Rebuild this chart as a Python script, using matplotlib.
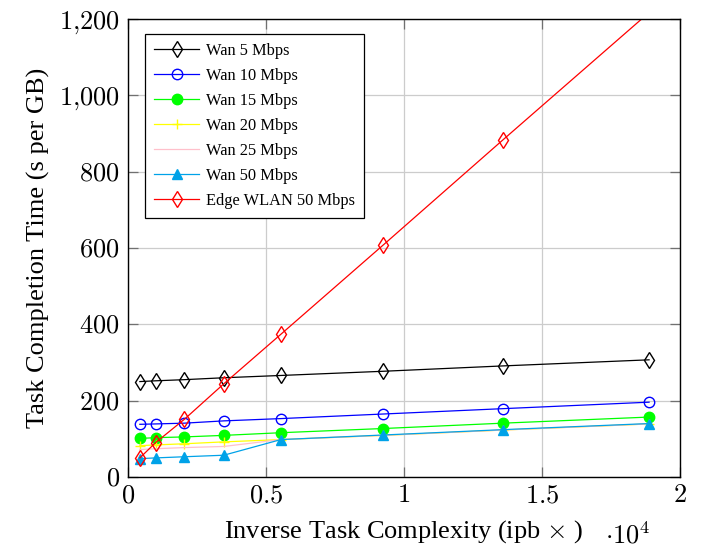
import matplotlib
matplotlib.use("Agg")
import matplotlib.pyplot as plt
from matplotlib.ticker import FuncFormatter

plt.rcParams["font.family"] = ["Liberation Serif", "DejaVu Serif"]
plt.rcParams["mathtext.fontset"] = "cm"

# inverse task complexity, in units of 10^4
x_vals = [0.043, 0.1, 0.204, 0.347, 0.554, 0.925, 1.358, 1.888]

wan_5 = [250, 252, 255, 260, 266, 277, 291, 307]
wan_10 = [138, 139, 141, 147, 153, 165, 179, 196]
wan_15 = [101, 103, 105, 109, 116, 127, 141, 157]
wan_20 = [82, 84, 87, 92, 98, 109, 123, 139]
wan_25 = [72, 74, 77, 80, 98, 109, 123, 139]
wan_50 = [48, 50, 53, 57, 98, 110, 124, 140]
edge_wlan_50 = [50, 90, 151, 244, 374, 608, 883, 1217]

series = [
    ("Wan 5 Mbps", wan_5, "black", "d", "none", 8),
    ("Wan 10 Mbps", wan_10, "blue", "o", "none", 7.5),
    ("Wan 15 Mbps", wan_15, "#00ff00", "o", "#00ff00", 7.5),
    ("Wan 20 Mbps", wan_20, "#ffff00", "+", "#ffff00", 7.5),
    ("Wan 25 Mbps", wan_25, "#ffc0cb", "", "#ffc0cb", 7),
    ("Wan 50 Mbps", wan_50, "#00a2e8", "^", "#00a2e8", 7),
    ("Edge WLAN 50 Mbps", edge_wlan_50, "red", "d", "none", 8),
]

fig = plt.figure(figsize=(7.04, 5.48), dpi=100)
ax = fig.add_axes([0.1818, 0.1296, 0.7841, 0.8357])

ymax = 1200
for label, vals, color, marker, face, ms in series:
    # marks outside the plot area are not drawn
    shown = [i for i, v in enumerate(vals) if v <= ymax]
    ax.plot(
        x_vals, vals,
        color=color,
        lw=0.9,
        marker=marker if marker else None,
        markevery=shown,
        markersize=ms,
        markerfacecolor=face,
        markeredgecolor=color,
        markeredgewidth=1.0,
        label=label,
    )

ax.set_xlim(0, 2)
ax.set_ylim(0, ymax)
ax.set_xticks([0, 0.5, 1, 1.5, 2])
ax.set_yticks(range(0, 1201, 200))

def fmt_x(v, pos):
    return "$%g$" % v

def fmt_y(v, pos):
    s = "{:,}".format(int(v)).replace(",", "{,}")
    return "$%s$" % s

ax.xaxis.set_major_formatter(FuncFormatter(fmt_x))
ax.yaxis.set_major_formatter(FuncFormatter(fmt_y))
ax.tick_params(direction="in", length=7, width=0.9, color="#707070",
               labelsize=19, top=True, right=True, pad=6)

ax.grid(True, color="#cccccc", lw=0.9)
ax.set_axisbelow(True)
for sp in ax.spines.values():
    sp.set_linewidth(1.0)

ax.set_xlabel("Inverse Task Complexity (ipb $\\times$ )", fontsize=19, labelpad=8)
ax.set_ylabel("Task Completion Time (s per GB)", fontsize=19, labelpad=6)
ax.text(0.906, -0.127, r"$\cdot 10^4$", transform=ax.transAxes,
        fontsize=19, ha="center", va="center")

leg = ax.legend(
    loc="upper left", bbox_to_anchor=(0.030, 0.967), borderaxespad=0,
    fontsize=11.8, fancybox=False, framealpha=1, edgecolor="black",
    handlelength=2.8, handletextpad=0.4, labelspacing=0.55, borderpad=0.55,
)
leg.get_frame().set_linewidth(0.9)

plt.savefig("out.png", dpi=100)
plt.close()
